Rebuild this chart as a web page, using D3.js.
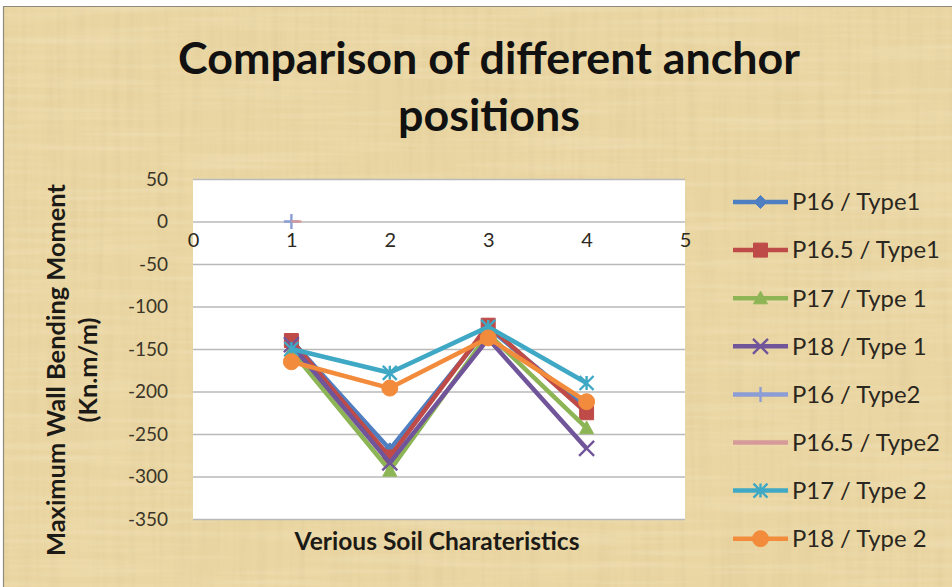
<!DOCTYPE html>
<html>
<head>
<meta charset="utf-8">
<script src="https://cdn.jsdelivr.net/npm/d3@7"></script>
<style>
  html, body { margin: 0; padding: 0; background: #ffffff; }
  svg { display: block; }
  text { font-family: Lato, "Open Sans", sans-serif; }
</style>
</head>
<body>
<svg id="chart" width="952" height="587"></svg>
<script>
// Soil characteristic cases along the x axis
const categories = [1, 2, 3, 4];
const xTickValues = [0, 1, 2, 3, 4, 5];
const yTickValues = [50, 0, -50, -100, -150, -200, -250, -300, -350];

// Maximum wall bending moment (Kn.m/m) for each anchor position / wall type
const seriesNames = [
  "P16 / Type1", "P16.5 / Type1", "P17 / Type 1", "P18 / Type 1",
  "P16 / Type2", "P16.5 / Type2", "P17 / Type 2", "P18 / Type 2"
];
const p16Type1  = [-140, -268, -125, -220];
const p165Type1 = [-140, -277, -122, -225];
const p17Type1  = [-152, -293, -132, -243];
const p18Type1  = [-145, -284, -138, -267];
const p16Type2  = [0, null, null, null];
const p165Type2 = [0, null, null, null];
const p17Type2  = [-150, -178, -124, -190];
const p18Type2  = [-165, -196, -137, -212];

const seriesValues = [p16Type1, p165Type1, p17Type1, p18Type1, p16Type2, p165Type2, p17Type2, p18Type2];
const seriesColors = ["#4F7FC0", "#BE4B48", "#8DB556", "#71559A", "#8C9DD6", "#D69A98", "#3FA8C4", "#F28C3C"];
const seriesMarkers = ["diamond", "square", "triangle", "x", "plus", "dash", "star", "circle"];

const svg = d3.select("#chart");

// Papyrus style backdrop: fine vertical and horizontal fibres
const defs = svg.append("defs");
const f = defs.append("filter").attr("id", "papyrus")
  .attr("x", 0).attr("y", 0).attr("width", "100%").attr("height", "100%");
f.append("feTurbulence").attr("type", "fractalNoise").attr("baseFrequency", "0.14 0.006")
  .attr("numOctaves", 2).attr("seed", 7).attr("result", "n1");
f.append("feColorMatrix").attr("in", "n1").attr("type", "matrix")
  .attr("values", "0 0 0 0 0.66  0 0 0 0 0.52  0 0 0 0 0.28  0.9 0 0 0 -0.38")
  .attr("result", "c1");
f.append("feTurbulence").attr("type", "fractalNoise").attr("baseFrequency", "0.006 0.16")
  .attr("numOctaves", 2).attr("seed", 3).attr("result", "n2");
f.append("feColorMatrix").attr("in", "n2").attr("type", "matrix")
  .attr("values", "0 0 0 0 0.97  0 0 0 0 0.92  0 0 0 0 0.78  0.8 0 0 0 -0.36")
  .attr("result", "c2");
f.append("feMerge").selectAll("feMergeNode").data(["c1", "c2"]).join("feMergeNode").attr("in", d => d);

svg.append("rect").attr("x", 3).attr("y", 6).attr("width", 949).attr("height", 581)
  .attr("fill", "#EAD6A2");
svg.append("rect").attr("x", 3).attr("y", 6).attr("width", 949).attr("height", 581)
  .attr("fill", "#EAD6A2").attr("filter", "url(#papyrus)").attr("opacity", 0.6);
svg.append("line").attr("x1", 3).attr("x2", 952).attr("y1", 6.5).attr("y2", 6.5)
  .attr("stroke", "#8f8a80").attr("stroke-width", 1.2);
svg.append("line").attr("x1", 3.5).attr("x2", 3.5).attr("y1", 6).attr("y2", 587)
  .attr("stroke", "#8f8a80").attr("stroke-width", 1.2);

// Scales
const plot = { left: 193, right: 685, top: 179, bottom: 519 };
const x = d3.scaleLinear().domain([0, 5]).range([plot.left, plot.right]);
const y = d3.scaleLinear().domain([-350, 50]).range([plot.bottom, plot.top]);

// Plot area
svg.append("rect").attr("x", plot.left).attr("y", plot.top)
  .attr("width", plot.right - plot.left).attr("height", plot.bottom - plot.top)
  .attr("fill", "#ffffff");

// Scale text so that it spans a given width
function fitWidth(sel, target) {
  const base = parseFloat(sel.attr("font-size"));
  const len = sel.node().getComputedTextLength();
  sel.attr("font-size", (base * target / len).toFixed(2));
}

// Y axis with horizontal gridlines
const yAxis = svg.append("g").attr("transform", `translate(${plot.left},0)`)
  .call(d3.axisLeft(y).tickValues(yTickValues).tickSize(-(plot.right - plot.left)).tickPadding(25)
    .tickFormat(d => d < 0 ? "-" + Math.abs(d) : String(d)));
yAxis.select(".domain").remove();
yAxis.selectAll(".tick line").attr("stroke", "#b9b9b9").attr("stroke-width", 1.6);
yAxis.selectAll(".tick text").attr("font-size", 19).attr("fill", "#3a3528")
  .attr("font-family", "Lato, sans-serif");

// X axis crossing at zero
const xAxis = svg.append("g").attr("transform", `translate(0,${y(0)})`)
  .call(d3.axisBottom(x).tickValues(xTickValues).tickSize(0).tickPadding(24).tickFormat(d3.format("d")));
xAxis.select(".domain").remove();
xAxis.selectAll(".tick text").attr("font-size", 20).attr("fill", "#2e2a22")
  .attr("font-family", "Lato, sans-serif").attr("dy", "0.05em");

// Marker shapes
function markerPath(type, s) {
  const h = s / 2;
  switch (type) {
    case "diamond": return `M0,${-h}L${h},0L0,${h}L${-h},0Z`;
    case "square": return `M${-h},${-h}H${h}V${h}H${-h}Z`;
    case "triangle": return `M0,${-h}L${h},${h * 0.8}L${-h},${h * 0.8}Z`;
    case "x": return `M${-h},${-h}L${h},${h}M${h},${-h}L${-h},${h}`;
    case "star": return `M${-h},${-h}L${h},${h}M${h},${-h}L${-h},${h}M0,${-h}V${h}`;
    case "plus": return `M${-h},0H${h}M0,${-h}V${h}`;
    case "dash": return `M0,0H${s}`;
    case "circle": return d3.symbol(d3.symbolCircle, Math.PI * h * h)();
  }
}
const markerSize = { diamond: 13, square: 14, triangle: 14, x: 15, star: 14, plus: 15, dash: 10, circle: 16 };
const isStroked = t => t === "x" || t === "star" || t === "plus" || t === "dash";

function drawMarker(g, type, color, cx, cy) {
  const p = g.append("path").attr("d", markerPath(type, markerSize[type]))
    .attr("transform", `translate(${cx},${cy})`);
  if (isStroked(type)) p.attr("fill", "none").attr("stroke", color).attr("stroke-width", 2.4);
  else p.attr("fill", color).attr("stroke", color).attr("stroke-width", 1);
}

const line = d3.line().defined(d => d.v !== null).x(d => x(d.c)).y(d => y(d.v));

seriesValues.forEach((vals, i) => {
  const pts = categories.map((c, j) => ({ c, v: vals[j] }));
  const g = svg.append("g").attr("class", "series");
  g.append("path").datum(pts).attr("d", line).attr("fill", "none")
    .attr("stroke", seriesColors[i]).attr("stroke-width", 4.5).attr("stroke-linejoin", "round");
  pts.filter(d => d.v !== null).forEach(d => drawMarker(g, seriesMarkers[i], seriesColors[i], x(d.c), y(d.v)));
});

// Legend
const legend = svg.append("g");
seriesNames.forEach((name, i) => {
  const ly = 202 + i * 48.1;
  legend.append("line").attr("x1", 733).attr("x2", 788).attr("y1", ly).attr("y2", ly)
    .attr("stroke", seriesColors[i]).attr("stroke-width", 4.5);
  const t = seriesMarkers[i];
  if (t === "dash") drawMarker(legend, t, seriesColors[i], 755, ly);
  else drawMarker(legend, t, seriesColors[i], 760.5, ly);
  legend.append("text").attr("class", "leg").attr("x", 792).attr("y", ly).attr("dy", "0.35em")
    .attr("font-size", 20).attr("fill", "#2a2620").text(name);
});
const legTexts = legend.selectAll("text.leg");
const refLen = legTexts.filter((d, i, n) => n[i].textContent === "P16.5 / Type2").node().getComputedTextLength();
legTexts.attr("font-size", (20 * 148 / refLen).toFixed(2));

// Title
const t1 = svg.append("text").attr("x", 489).attr("y", 74).attr("text-anchor", "middle")
  .attr("font-size", 44).attr("font-weight", 700).attr("fill", "#111")
  .text("Comparison of different anchor");
fitWidth(t1, 622);
svg.append("text").attr("x", 489).attr("y", 131).attr("text-anchor", "middle")
  .attr("font-size", t1.attr("font-size")).attr("font-weight", 700).attr("fill", "#111")
  .text("positions");

// Axis titles
const xt = svg.append("text").attr("x", 437).attr("y", 550).attr("text-anchor", "middle")
  .attr("font-size", 19).attr("font-weight", 700).attr("fill", "#1c1a16")
  .text("Verious Soil Charateristics");
fitWidth(xt, 285);

const yt1 = svg.append("text").attr("transform", "translate(65,370) rotate(-90)")
  .attr("text-anchor", "middle").attr("font-size", 19).attr("font-weight", 700).attr("fill", "#1c1a16")
  .text("Maximum Wall Bending Moment");
fitWidth(yt1, 372);
svg.append("text").attr("transform", "translate(97,370) rotate(-90)")
  .attr("text-anchor", "middle").attr("font-size", yt1.attr("font-size")).attr("font-weight", 700)
  .attr("fill", "#1c1a16").text("(Kn.m/m)");
</script>
</body>
</html>
